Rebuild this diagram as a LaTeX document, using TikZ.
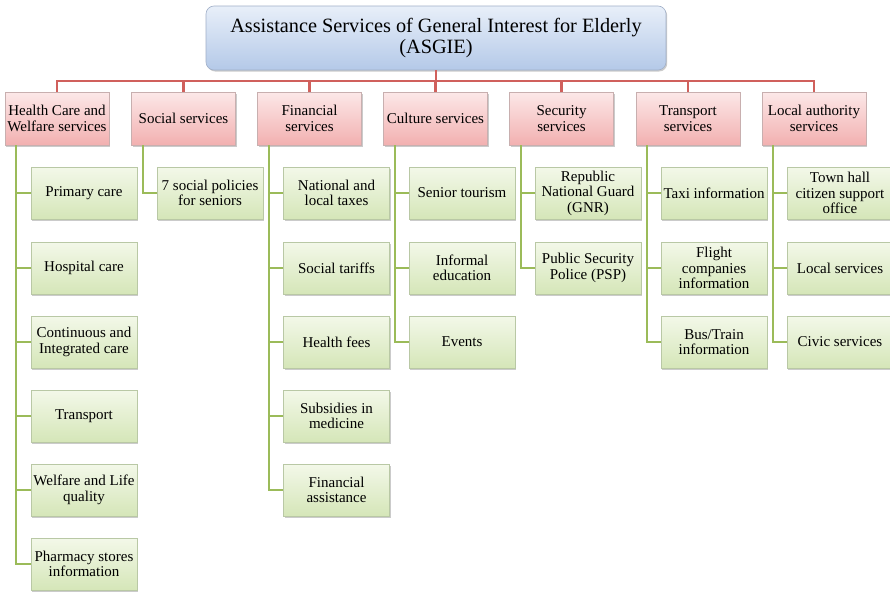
\documentclass[tikz,border=0pt]{standalone}
\usepackage{fontspec}
\setmainfont{Liberation Serif}
\usetikzlibrary{shadows}
\definecolor{redline}{HTML}{D0605C}
\definecolor{greenline}{HTML}{9BBB59}
\tikzset{
  topbox/.style={draw={rgb,255:red,160;green,175;blue,200}, line width=0.6pt, rounded corners=8pt, top color={rgb,255:red,232;green,239;blue,249}, bottom color={rgb,255:red,180;green,201;blue,232},
    minimum width=460pt, minimum height=64pt, align=center, inner sep=2pt,
    font=\fontsize{20.3}{21}\selectfont,
    drop shadow={shadow xshift=1.2pt, shadow yshift=-1.5pt, fill=black!40, opacity=0.5}},
  catbox/.style={draw={rgb,255:red,200;green,175;blue,175}, line width=0.5pt, top color={rgb,255:red,252;green,232;blue,232}, bottom color={rgb,255:red,242;green,176;blue,176},
    minimum width=104pt, minimum height=53pt, align=center, inner sep=1pt,
    font=\fontsize{15}{15.5}\selectfont,
    drop shadow={shadow xshift=1.2pt, shadow yshift=-1.5pt, fill=black!40, opacity=0.5}},
  leafbox/.style={draw={rgb,255:red,185;green,200;blue,165}, line width=0.5pt, top color={rgb,255:red,243;green,248;blue,233}, bottom color={rgb,255:red,213;green,230;blue,184},
    minimum width=106pt, minimum height=52pt, align=center, inner sep=1pt,
    font=\fontsize{15}{15.5}\selectfont,
    drop shadow={shadow xshift=1.2pt, shadow yshift=-1.5pt, fill=black!40, opacity=0.5}},
  redconn/.style={draw=redline, line width=2.4pt},
  greenconn/.style={draw=greenline, line width=2.8pt},
}
\begin{document}
\begin{tikzpicture}[x=1pt,y=-1pt]
\useasboundingbox[fill=white] (0,0) rectangle (890,592);
% top
\node[topbox] (top) at (436,38) {Assistance Services of General Interest for Elderly\\(ASGIE)};
\coordinate (bus) at (436,81);
% categories
\node[catbox] (c1) at (57,118.5) {Health Care and\\Welfare services};
\node[catbox] (c2) at (183.5,118.5) {Social services};
\node[catbox] (c3) at (309.5,118.5) {Financial\\services};
\node[catbox] (c4) at (435.5,118.5) {Culture services};
\node[catbox] (c5) at (561.5,118.5) {Security\\services};
\node[catbox] (c6) at (688,118.5) {Transport\\services};
\node[catbox] (c7) at (814,118.5) {Local authority\\services};
% column line starts
\coordinate (v1) at (16,145);
\coordinate (v2) at (143,145);
\coordinate (v3) at (269,145);
\coordinate (v4) at (395,145);
\coordinate (v5) at (521,145);
\coordinate (v6) at (647,145);
\coordinate (v7) at (773,145);
% leaves
\node[leafbox] (l11) at (84,193) {Primary care};
\node[leafbox] (l12) at (84,268) {Hospital care};
\node[leafbox] (l13) at (84,342) {Continuous and\\Integrated care};
\node[leafbox] (l14) at (84,416) {Transport};
\node[leafbox] (l15) at (84,490) {Welfare and Life\\quality};
\node[leafbox] (l16) at (84,564) {Pharmacy stores\\information};
\node[leafbox] (l21) at (210,193) {7 social policies\\for seniors};
\node[leafbox] (l31) at (336.5,193) {National and\\local taxes};
\node[leafbox] (l32) at (336.5,268) {Social tariffs};
\node[leafbox] (l33) at (336.5,342) {Health fees};
\node[leafbox] (l34) at (336.5,416) {Subsidies in\\medicine};
\node[leafbox] (l35) at (336.5,490) {Financial\\assistance};
\node[leafbox] (l41) at (462,193) {Senior tourism};
\node[leafbox] (l42) at (462,268) {Informal\\education};
\node[leafbox] (l43) at (462,342) {Events};
\node[leafbox] (l51) at (588,193) {Republic\\National Guard\\(GNR)};
\node[leafbox] (l52) at (588,268) {Public Security\\Police (PSP)};
\node[leafbox] (l61) at (714,193) {Taxi information};
\node[leafbox] (l62) at (714,268) {Flight\\companies\\information};
\node[leafbox] (l63) at (714,342) {Bus/Train\\information};
\node[leafbox] (l71) at (840,193) {Town hall\\citizen support\\office};
\node[leafbox] (l72) at (840,268) {Local services};
\node[leafbox] (l73) at (840,342) {Civic services};
% connectors
\draw[redconn] (top.south) -- (bus);
\draw[redconn] (c1.north) -- (c1.north |- bus) -- (c7.north |- bus) -- (c7.north);
\foreach \c in {c2,c3,c4,c5,c6} \draw[redconn] (\c.north) -- (\c.north |- bus);
\foreach \l in {l11,l12,l13,l14,l15,l16} \draw[greenconn] (v1) |- (\l.west);
\draw[greenconn] (v2) |- (l21.west);
\foreach \l in {l31,l32,l33,l34,l35} \draw[greenconn] (v3) |- (\l.west);
\foreach \l in {l41,l42,l43} \draw[greenconn] (v4) |- (\l.west);
\foreach \l in {l51,l52} \draw[greenconn] (v5) |- (\l.west);
\foreach \l in {l61,l62,l63} \draw[greenconn] (v6) |- (\l.west);
\foreach \l in {l71,l72,l73} \draw[greenconn] (v7) |- (\l.west);
\end{tikzpicture}
\end{document}
